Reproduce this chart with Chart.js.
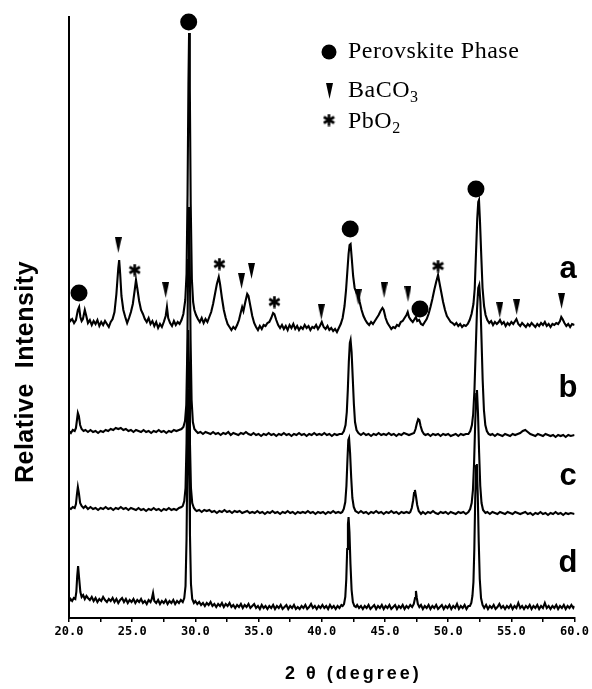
<!DOCTYPE html>
<html><head><meta charset="utf-8">
<script src="https://cdn.jsdelivr.net/npm/chart.js@4.4.1/dist/chart.umd.min.js"></script>
<style>html,body{margin:0;padding:0;background:#fff;}#wrap{width:592px;height:689px;position:relative;}</style>
</head><body><div id="wrap"><canvas id="c" width="592" height="689"></canvas></div>
<script>
// ---- data (2θ in degrees, relative intensity in arbitrary units) ----
const xTickLabels = [20, 25, 30, 35, 40, 45, 50, 55, 60];
const traceLabels = ['a', 'b', 'c', 'd'];
const traceOffsets = [284, 178, 100, 4];

const patternA = [[20.0,16],[20.1,13],[20.25,15],[20.4,11],[20.55,14],[20.7,24],[20.8,27],[20.9,17],[21.0,13],[21.1,15],[21.25,24],[21.35,19],[21.5,11],[21.65,14],[21.8,9],[21.95,13],[22.1,10],[22.25,14],[22.4,8],[22.55,12],[22.7,9],[22.85,13],[23.0,10],[23.15,7],[23.3,12],[23.45,15],[23.6,22],[23.75,40],[23.9,66],[23.97,74],[24.05,60],[24.15,38],[24.3,24],[24.45,17],[24.6,11],[24.75,16],[24.9,22],[25.05,30],[25.2,44],[25.3,54],[25.4,46],[25.55,33],[25.7,24],[25.85,20],[26.0,15],[26.15,12],[26.3,16],[26.45,10],[26.6,13],[26.75,8],[26.9,12],[27.05,6],[27.2,10],[27.35,7],[27.5,12],[27.65,18],[27.75,27],[27.85,16],[28.0,11],[28.15,8],[28.3,13],[28.45,9],[28.6,12],[28.75,10],[28.9,14],[29.05,20],[29.2,34],[29.3,60],[29.38,140],[29.45,250],[29.5,301],[29.56,245],[29.63,130],[29.72,55],[29.82,32],[29.92,24],[30.05,19],[30.2,15],[30.35,12],[30.5,16],[30.65,11],[30.8,15],[30.95,12],[31.1,17],[31.25,22],[31.4,30],[31.55,40],[31.7,50],[31.85,57],[31.95,50],[32.1,36],[32.25,24],[32.4,16],[32.55,10],[32.7,7],[32.85,4],[33.0,7],[33.15,5],[33.3,9],[33.45,14],[33.6,22],[33.7,27],[33.8,23],[33.95,32],[34.1,40],[34.2,38],[34.35,28],[34.5,18],[34.65,11],[34.8,7],[34.95,4],[35.1,8],[35.25,5],[35.4,9],[35.55,8],[35.7,11],[35.85,12],[36.0,16],[36.15,21],[36.25,20],[36.4,14],[36.55,9],[36.7,6],[36.85,9],[37.0,5],[37.15,8],[37.3,4],[37.45,9],[37.6,6],[37.75,10],[37.9,5],[38.05,8],[38.2,4],[38.35,7],[38.5,5],[38.65,9],[38.8,6],[38.95,8],[39.1,4],[39.25,7],[39.4,6],[39.55,9],[39.7,5],[39.85,8],[40.0,12],[40.15,7],[40.3,5],[40.45,8],[40.6,4],[40.75,6],[40.9,3],[41.05,5],[41.2,2],[41.35,6],[41.5,10],[41.65,16],[41.8,28],[41.92,44],[42.02,62],[42.12,80],[42.2,89],[42.28,90],[42.37,76],[42.48,58],[42.6,46],[42.75,41],[42.88,42],[43.0,32],[43.15,24],[43.3,18],[43.45,14],[43.6,11],[43.75,9],[43.9,12],[44.05,10],[44.2,13],[44.35,16],[44.5,19],[44.65,23],[44.8,26],[44.9,24],[45.05,16],[45.2,11],[45.35,8],[45.5,5],[45.65,7],[45.8,6],[45.95,9],[46.1,8],[46.25,12],[46.4,13],[46.55,16],[46.7,19],[46.8,22],[46.9,17],[47.05,14],[47.2,12],[47.35,15],[47.45,17],[47.55,13],[47.7,14],[47.85,10],[48.0,9],[48.15,12],[48.3,15],[48.45,20],[48.6,27],[48.75,35],[48.9,44],[49.05,52],[49.2,59],[49.3,52],[49.45,42],[49.6,32],[49.75,24],[49.9,18],[50.05,15],[50.2,12],[50.35,11],[50.5,9],[50.65,11],[50.8,8],[50.95,10],[51.1,7],[51.25,9],[51.4,8],[51.55,10],[51.7,14],[51.85,20],[52.0,30],[52.1,45],[52.2,80],[52.3,115],[52.38,132],[52.44,134],[52.52,112],[52.62,78],[52.72,46],[52.84,28],[52.96,19],[53.1,14],[53.25,11],[53.4,13],[53.55,9],[53.7,12],[53.85,10],[54.0,12],[54.1,14],[54.25,10],[54.4,12],[54.55,8],[54.7,11],[54.85,9],[55.0,12],[55.15,10],[55.3,13],[55.4,15],[55.55,10],[55.7,8],[55.85,11],[56.0,9],[56.15,7],[56.3,10],[56.45,8],[56.6,11],[56.75,9],[56.9,7],[57.05,10],[57.2,8],[57.35,11],[57.5,9],[57.65,12],[57.8,8],[57.95,10],[58.1,7],[58.25,10],[58.4,9],[58.55,11],[58.7,10],[58.85,13],[58.95,17],[59.05,15],[59.2,11],[59.35,8],[59.5,10],[59.65,7],[59.8,10],[60.0,9]];

const patternB = [[20.0,9],[20.15,7],[20.3,10],[20.45,9],[20.55,12],[20.63,20],[20.7,27],[20.78,24],[20.88,15],[21.0,11],[21.15,9],[21.3,10],[21.5,8],[21.7,10],[21.9,8],[22.1,9],[22.3,7],[22.5,9],[22.7,8],[22.9,10],[23.1,9],[23.3,11],[23.5,10],[23.7,12],[23.9,11],[24.1,12],[24.3,10],[24.5,11],[24.7,9],[24.9,10],[25.1,8],[25.3,10],[25.5,9],[25.7,8],[25.9,10],[26.1,8],[26.3,9],[26.5,7],[26.7,9],[26.9,8],[27.1,10],[27.3,8],[27.5,9],[27.7,7],[27.9,9],[28.1,8],[28.3,10],[28.5,9],[28.7,10],[28.9,11],[29.05,13],[29.18,19],[29.28,35],[29.36,90],[29.43,180],[29.49,233],[29.55,185],[29.62,100],[29.7,40],[29.8,18],[29.92,11],[30.05,9],[30.2,7],[30.4,8],[30.6,6],[30.8,8],[31.0,7],[31.2,6],[31.4,8],[31.6,6],[31.8,7],[32.0,5],[32.2,7],[32.4,6],[32.6,8],[32.8,5],[33.0,7],[33.2,6],[33.4,5],[33.6,7],[33.8,6],[34.0,8],[34.2,6],[34.4,5],[34.6,7],[34.8,5],[35.0,6],[35.2,4],[35.4,6],[35.6,5],[35.8,7],[36.0,5],[36.2,6],[36.4,4],[36.6,6],[36.8,5],[37.0,7],[37.2,5],[37.4,6],[37.6,4],[37.8,6],[38.0,5],[38.2,7],[38.4,5],[38.6,6],[38.8,4],[39.0,6],[39.2,5],[39.4,7],[39.6,5],[39.8,6],[40.0,5],[40.2,7],[40.4,5],[40.6,6],[40.8,4],[41.0,6],[41.2,5],[41.4,6],[41.6,6],[41.75,9],[41.88,15],[41.98,28],[42.06,50],[42.14,78],[42.22,97],[42.28,100],[42.36,88],[42.45,62],[42.54,36],[42.63,18],[42.75,10],[42.9,7],[43.1,5],[43.3,7],[43.5,5],[43.7,6],[43.9,4],[44.1,6],[44.3,5],[44.5,7],[44.7,5],[44.9,6],[45.1,5],[45.3,7],[45.5,5],[45.7,6],[45.9,4],[46.1,6],[46.3,5],[46.5,7],[46.7,6],[46.9,5],[47.1,6],[47.3,7],[47.42,11],[47.53,17],[47.63,21],[47.72,20],[47.82,14],[47.94,9],[48.08,6],[48.2,5],[48.4,6],[48.6,4],[48.8,6],[49.0,5],[49.2,6],[49.4,4],[49.6,6],[49.8,5],[50.0,6],[50.2,4],[50.4,5],[50.6,6],[50.8,4],[51.0,6],[51.2,5],[51.4,6],[51.6,6],[51.75,9],[51.88,15],[51.98,26],[52.08,50],[52.18,90],[52.28,130],[52.38,152],[52.46,155],[52.55,138],[52.64,100],[52.73,60],[52.83,30],[52.94,15],[53.06,9],[53.2,6],[53.35,5],[53.5,6],[53.7,4],[53.9,6],[54.1,5],[54.3,4],[54.5,6],[54.7,5],[54.9,4],[55.1,6],[55.3,5],[55.5,6],[55.7,7],[55.9,9],[56.1,10],[56.3,8],[56.5,6],[56.7,5],[56.9,4],[57.1,6],[57.3,5],[57.5,4],[57.7,6],[57.9,5],[58.1,4],[58.3,5],[58.5,3],[58.7,5],[58.9,4],[59.1,5],[59.3,3],[59.5,5],[59.7,4],[60.0,5]];

const patternC = [[20.0,10],[20.15,9],[20.3,11],[20.45,10],[20.55,14],[20.63,24],[20.7,31],[20.78,25],[20.88,15],[21.0,12],[21.15,10],[21.3,12],[21.5,9],[21.7,11],[21.9,9],[22.1,10],[22.3,8],[22.5,10],[22.7,9],[22.9,11],[23.1,9],[23.3,10],[23.5,8],[23.7,10],[23.9,9],[24.1,11],[24.3,9],[24.5,10],[24.7,8],[24.9,10],[25.1,9],[25.3,8],[25.5,10],[25.7,8],[25.9,9],[26.1,7],[26.3,9],[26.5,8],[26.7,10],[26.9,8],[27.1,9],[27.3,7],[27.5,9],[27.7,8],[27.9,10],[28.1,8],[28.3,9],[28.5,8],[28.7,10],[28.9,11],[29.0,12],[29.12,17],[29.22,30],[29.3,75],[29.37,150],[29.43,188],[29.5,150],[29.57,75],[29.65,30],[29.75,15],[29.88,10],[30.0,8],[30.1,7],[30.3,8],[30.5,6],[30.7,8],[30.9,7],[31.1,8],[31.3,6],[31.5,7],[31.7,5],[31.9,7],[32.1,6],[32.3,8],[32.5,6],[32.7,7],[32.9,5],[33.1,7],[33.3,6],[33.5,7],[33.7,5],[33.9,6],[34.1,7],[34.3,5],[34.5,6],[34.7,5],[34.9,7],[35.1,5],[35.3,6],[35.5,4],[35.7,6],[35.9,5],[36.1,7],[36.3,5],[36.5,6],[36.7,4],[36.9,6],[37.1,5],[37.3,7],[37.5,5],[37.7,6],[37.9,4],[38.1,6],[38.3,5],[38.5,6],[38.7,5],[38.9,7],[39.1,5],[39.3,6],[39.5,4],[39.7,6],[39.9,5],[40.1,6],[40.3,4],[40.5,6],[40.7,5],[40.9,7],[41.1,5],[41.3,6],[41.5,5],[41.62,6],[41.74,9],[41.86,16],[41.95,32],[42.03,58],[42.1,78],[42.16,80],[42.24,65],[42.33,40],[42.42,20],[42.53,11],[42.66,7],[42.8,6],[42.9,5],[43.1,7],[43.3,5],[43.5,6],[43.7,4],[43.9,6],[44.1,5],[44.3,7],[44.5,5],[44.7,6],[44.9,4],[45.1,6],[45.3,5],[45.5,7],[45.7,5],[45.9,6],[46.1,4],[46.3,6],[46.5,5],[46.7,6],[46.9,5],[47.0,6],[47.12,10],[47.22,17],[47.3,25],[47.37,28],[47.45,22],[47.55,13],[47.67,7],[47.85,4],[48.0,6],[48.2,4],[48.4,6],[48.6,5],[48.8,7],[49.0,5],[49.2,4],[49.4,6],[49.6,5],[49.8,6],[50.0,4],[50.2,6],[50.4,5],[50.6,4],[50.8,6],[51.0,5],[51.2,6],[51.4,4],[51.6,6],[51.74,9],[51.86,15],[51.96,28],[52.05,55],[52.14,95],[52.22,124],[52.28,128],[52.36,105],[52.45,65],[52.54,32],[52.64,15],[52.76,8],[52.95,5],[53.1,6],[53.3,4],[53.5,6],[53.7,5],[53.9,4],[54.1,6],[54.3,5],[54.5,4],[54.7,6],[54.9,5],[55.1,4],[55.3,6],[55.5,5],[55.7,4],[55.9,5],[56.1,6],[56.3,4],[56.5,5],[56.7,3],[56.9,5],[57.1,4],[57.3,6],[57.5,4],[57.7,5],[57.9,3],[58.1,5],[58.3,4],[58.5,6],[58.7,4],[58.9,5],[59.1,3],[59.3,5],[59.5,4],[59.7,5],[60.0,4]];

const patternD = [[20.0,12],[20.12,15],[20.25,13],[20.38,16],[20.5,15],[20.58,22],[20.65,38],[20.72,48],[20.8,36],[20.9,22],[21.0,17],[21.12,19],[21.25,15],[21.38,18],[21.5,16],[21.65,14],[21.8,17],[21.95,13],[22.1,16],[22.25,12],[22.4,15],[22.55,13],[22.7,17],[22.85,14],[23.0,12],[23.15,15],[23.3,13],[23.45,16],[23.6,12],[23.75,15],[23.9,11],[24.05,14],[24.2,16],[24.35,12],[24.5,15],[24.65,11],[24.8,14],[24.95,12],[25.1,15],[25.25,11],[25.4,14],[25.55,12],[25.7,15],[25.85,11],[26.0,13],[26.15,10],[26.3,14],[26.45,12],[26.55,15],[26.65,21],[26.75,13],[26.9,11],[27.05,14],[27.2,10],[27.35,13],[27.5,11],[27.65,14],[27.8,10],[27.95,13],[28.1,11],[28.25,14],[28.4,10],[28.55,13],[28.7,11],[28.85,14],[29.0,12],[29.12,16],[29.22,28],[29.3,75],[29.37,160],[29.44,225],[29.5,165],[29.57,80],[29.65,30],[29.75,15],[29.88,11],[30.0,13],[30.15,10],[30.3,12],[30.45,9],[30.6,11],[30.75,8],[30.9,11],[31.05,9],[31.2,12],[31.35,8],[31.5,10],[31.65,7],[31.8,10],[31.95,8],[32.1,11],[32.25,7],[32.4,10],[32.55,8],[32.7,11],[32.85,7],[33.0,9],[33.15,6],[33.3,9],[33.45,7],[33.6,10],[33.75,6],[33.9,9],[34.05,7],[34.2,10],[34.35,6],[34.5,8],[34.65,10],[34.8,6],[34.95,8],[35.1,5],[35.25,9],[35.4,6],[35.55,8],[35.7,5],[35.85,8],[36.0,6],[36.15,9],[36.3,5],[36.45,8],[36.6,6],[36.75,9],[36.9,5],[37.05,7],[37.2,9],[37.35,5],[37.5,8],[37.65,6],[37.8,9],[37.95,5],[38.1,7],[38.25,5],[38.4,8],[38.55,6],[38.7,9],[38.85,5],[39.0,7],[39.15,10],[39.3,6],[39.45,8],[39.6,5],[39.75,8],[39.9,6],[40.05,9],[40.2,6],[40.35,8],[40.5,5],[40.65,9],[40.8,6],[40.95,8],[41.1,5],[41.25,8],[41.4,6],[41.55,9],[41.65,8],[41.76,10],[41.86,17],[41.94,35],[42.01,65],[42.07,90],[42.12,97],[42.19,82],[42.27,50],[42.36,24],[42.46,12],[42.58,8],[42.7,7],[42.8,9],[42.95,6],[43.1,8],[43.25,5],[43.4,8],[43.55,6],[43.7,9],[43.85,5],[44.0,7],[44.15,9],[44.3,5],[44.45,8],[44.6,6],[44.75,9],[44.9,5],[45.05,8],[45.2,6],[45.35,9],[45.5,5],[45.65,7],[45.8,9],[45.95,5],[46.1,8],[46.25,6],[46.4,9],[46.55,5],[46.7,8],[46.85,6],[47.0,9],[47.15,7],[47.28,10],[47.38,16],[47.45,23],[47.52,16],[47.6,10],[47.72,7],[47.85,9],[48.0,5],[48.15,8],[48.3,6],[48.45,9],[48.6,5],[48.75,8],[48.9,6],[49.05,9],[49.2,5],[49.35,7],[49.5,9],[49.65,5],[49.8,8],[49.95,6],[50.1,9],[50.25,5],[50.4,8],[50.55,6],[50.7,10],[50.85,5],[51.0,8],[51.15,6],[51.3,9],[51.45,5],[51.6,8],[51.72,8],[51.83,11],[51.92,18],[52.0,32],[52.07,65],[52.14,115],[52.21,148],[52.27,150],[52.34,120],[52.42,72],[52.5,35],[52.6,16],[52.72,9],[52.85,6],[53.0,9],[53.15,5],[53.3,8],[53.45,6],[53.6,9],[53.75,5],[53.9,7],[54.05,10],[54.2,6],[54.35,8],[54.5,5],[54.65,8],[54.8,6],[54.95,9],[55.1,5],[55.25,8],[55.4,6],[55.55,11],[55.7,6],[55.85,8],[56.0,5],[56.15,8],[56.3,6],[56.45,9],[56.6,5],[56.75,8],[56.9,6],[57.05,9],[57.2,5],[57.35,8],[57.5,6],[57.65,11],[57.8,6],[57.95,8],[58.1,5],[58.25,8],[58.4,6],[58.55,9],[58.7,5],[58.85,8],[59.0,6],[59.15,9],[59.3,5],[59.45,8],[59.6,6],[59.75,9],[59.9,6],[60.0,8]];

// phase identification marks on pattern a: [2θ, height]
const perovskiteMarks = [[20.79,325],[29.47,596],[42.25,389],[47.77,309],[52.2,429]];
const baco3Marks = [[23.9,373],[27.65,328],[33.65,337],[34.44,347],[39.96,306],[42.88,321],[44.93,328],[46.82,324],[54.08,308],[55.42,311],[58.97,317]];
const pbo2Marks = [[25.2,348],[31.9,354],[36.25,316],[49.2,352]];
const legendNames = ['Perovskite Phase', 'BaCO', 'PbO'];
const legendSubs = ['', '3', '2'];
const xTitle = '2 θ (degree)';
const yTitle = 'Relative  Intensity';

// ---- marker glyphs ----
function makeTriangle(w, h) {
  const c = document.createElement('canvas'); c.width = w; c.height = h;
  const g = c.getContext('2d'); g.fillStyle = '#000';
  g.beginPath(); g.moveTo(0, 0); g.lineTo(w, 0); g.lineTo(w / 2, h); g.closePath(); g.fill();
  return c;
}
function makeAsterisk(s, lw) {
  const c = document.createElement('canvas'); c.width = s; c.height = s;
  const g = c.getContext('2d'); g.strokeStyle = '#000'; g.lineWidth = lw;
  const r = s / 2 - 0.5;
  for (const a of [90, 30, 150]) {
    const t = a * Math.PI / 180;
    g.beginPath();
    g.moveTo(s / 2 + r * Math.cos(t), s / 2 - r * Math.sin(t));
    g.lineTo(s / 2 - r * Math.cos(t), s / 2 + r * Math.sin(t));
    g.stroke();
  }
  return c;
}
const triGlyph = makeTriangle(7, 16);
const astGlyph = makeAsterisk(13, 2.6);

const patterns = [patternA, patternB, patternC, patternD];
const datasets = patterns.map((p, i) => ({
  type: 'line',
  label: traceLabels[i],
  data: p.map(([x, y]) => ({x: x, y: y + traceOffsets[i]})),
  borderColor: '#000', borderWidth: 2.1, pointRadius: 0, tension: 0, fill: false
}));
datasets.push({type: 'scatter', label: 'Perovskite Phase', data: perovskiteMarks.map(([x, y]) => ({x, y})),
  pointStyle: 'circle', pointRadius: 8.5, backgroundColor: '#000', borderWidth: 0, clip: false});
datasets.push({type: 'scatter', label: 'BaCO3', data: baco3Marks.map(([x, y]) => ({x, y})),
  pointStyle: triGlyph, pointRadius: 6, backgroundColor: '#000', borderWidth: 0, clip: false});
datasets.push({type: 'scatter', label: 'PbO2', data: pbo2Marks.map(([x, y]) => ({x, y})),
  pointStyle: astGlyph, pointRadius: 6, backgroundColor: '#000', borderWidth: 0, clip: false});

const annotations = {
  id: 'annotations',
  afterDraw(chart) {
    const ctx = chart.ctx;
    ctx.save();
    ctx.fillStyle = '#000';
    // trace labels
    ctx.font = 'bold 31px "Liberation Sans", Arial, sans-serif';
    ctx.textAlign = 'center'; ctx.textBaseline = 'alphabetic';
    const labelBase = [278, 397, 485, 572];
    traceLabels.forEach((t, i) => ctx.fillText(t, 568, labelBase[i]));
    // legend
    const rowBase = [58, 97, 128];
    ctx.beginPath(); ctx.arc(329, 52, 7.5, 0, Math.PI * 2); ctx.fill();
    ctx.drawImage(triGlyph, 326, 83);
    ctx.drawImage(astGlyph, 322.5, 113.5);
    ctx.textAlign = 'left';
    legendNames.forEach((t, i) => {
      ctx.font = '24px "Liberation Serif", "Times New Roman", serif';
      ctx.letterSpacing = '0.5px';
      ctx.fillText(t, 348, rowBase[i]);
      if (legendSubs[i]) {
        const w = ctx.measureText(t).width;
        ctx.font = '16px "Liberation Serif", "Times New Roman", serif';
        ctx.fillText(legendSubs[i], 348 + w, rowBase[i] + 5);
      }
    });
    // x title
    ctx.letterSpacing = '3px';
    ctx.font = 'bold 18px "Liberation Sans", Arial, sans-serif';
    ctx.fillText(xTitle, 285, 679);
    // y title
    ctx.letterSpacing = '0.5px';
    ctx.font = 'bold 25px "Liberation Sans", Arial, sans-serif';
    ctx.translate(33, 372); ctx.rotate(-Math.PI / 2);
    ctx.textAlign = 'center';
    ctx.fillText(yTitle, 0, 0);
    ctx.restore();
  }
};

new Chart(document.getElementById('c'), {
  data: {datasets},
  options: {
    responsive: false, animation: false, devicePixelRatio: 1,
    layout: {padding: {top: 17, right: 15, left: 0, bottom: 0}},
    plugins: {legend: {display: false}, tooltip: {enabled: false}, title: {display: false}},
    scales: {
      x: {
        type: 'linear', min: 20, max: 60,
        ticks: {stepSize: 2.5, autoSkip: false, maxRotation: 0, padding: 3, color: '#000',
          font: {family: '"DejaVu Sans Mono", monospace', size: 12, weight: 'bold'},
          callback: (v) => xTickLabels.includes(v) ? v.toFixed(1) : ''},
        grid: {display: true, drawOnChartArea: false, drawTicks: true, tickLength: 4, color: '#000', lineWidth: 1.5},
        border: {display: true, color: '#000', width: 2},
        afterFit: (s) => { s.height = 71; }
      },
      y: {
        type: 'linear', min: 0, max: 601,
        ticks: {display: false},
        grid: {display: true, drawOnChartArea: false, drawTicks: false},
        border: {display: true, color: '#000', width: 2},
        afterFit: (s) => { s.width = 69; }
      }
    }
  },
  plugins: [annotations]
});
</script>
</body></html>
